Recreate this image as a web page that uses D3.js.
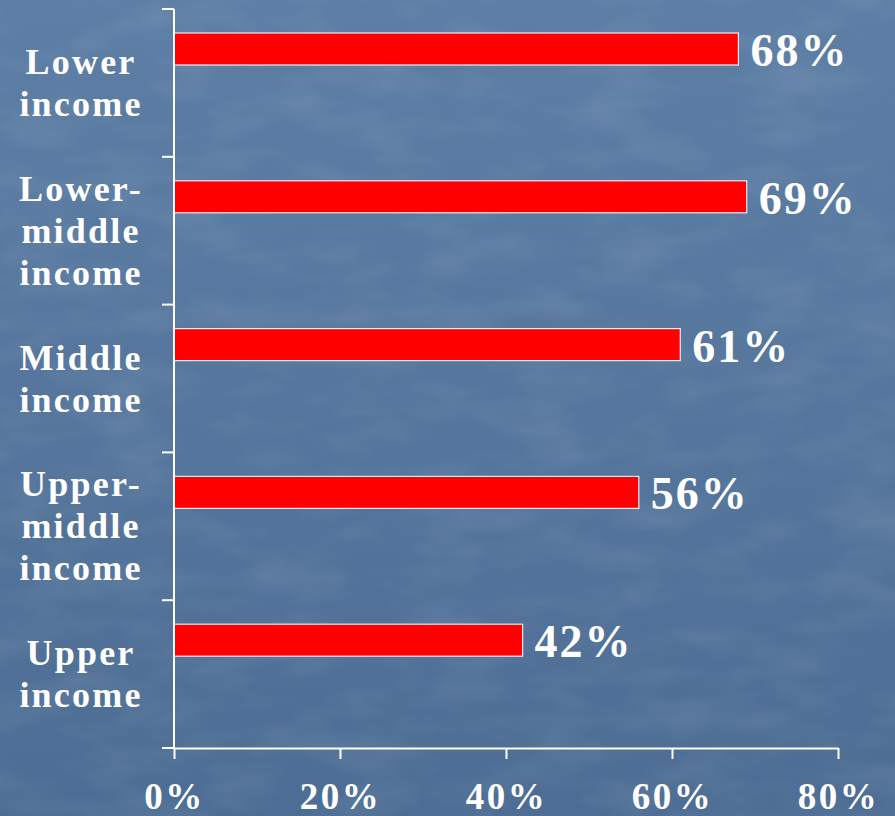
<!DOCTYPE html>
<html>
<head>
<meta charset="utf-8">
<script src="https://cdn.jsdelivr.net/npm/d3@7/dist/d3.min.js"></script>
<style>
  html, body { margin: 0; padding: 0; background: #56769c; }
  svg { display: block; }
</style>
</head>
<body>
<svg id="chart" width="895" height="816"></svg>
<script>
// ---- data ----
const categories = [
  ["Lower", "income"],
  ["Lower-", "middle", "income"],
  ["Middle", "income"],
  ["Upper-", "middle", "income"],
  ["Upper", "income"]
];
const categoryKeys = ["Lower income", "Lower-middle income", "Middle income", "Upper-middle income", "Upper income"];
const values = [68, 69, 61, 56, 42];
const xTicks = [0, 20, 40, 60, 80];

const W = 895, H = 816;
const svg = d3.select("#chart");

// background
const defs = svg.append("defs");
const grad = defs.append("linearGradient").attr("id", "bg").attr("x1", 0).attr("y1", 0).attr("x2", 0).attr("y2", 1);
grad.append("stop").attr("offset", "0%").attr("stop-color", "#5d7ea5");
grad.append("stop").attr("offset", "100%").attr("stop-color", "#4d6d94");
const filt = defs.append("filter").attr("id", "tex").attr("x", 0).attr("y", 0).attr("width", 1).attr("height", 1);
filt.append("feTurbulence").attr("type", "fractalNoise").attr("baseFrequency", "0.012 0.03").attr("numOctaves", 3).attr("seed", 4).attr("result", "n");
filt.append("feColorMatrix").attr("in", "n").attr("type", "matrix")
  .attr("values", "0 0 0 0 1  0 0 0 0 1  0 0 0 0 1  0 0 0 0.9 -0.35");
svg.append("rect").attr("width", W).attr("height", H).attr("fill", "url(#bg)");
svg.append("rect").attr("width", W).attr("height", H).attr("filter", "url(#tex)").attr("opacity", 0.18);

const font = "'Liberation Serif', 'Times New Roman', serif";

const x = d3.scaleLinear().domain([0, 80]).range([174, 838]);
const y = d3.scaleBand().domain(categoryKeys).range([9, 748]).paddingInner(0).paddingOuter(0);

// bars
svg.append("g").selectAll("rect").data(values).join("rect")
  .attr("x", x(0))
  .attr("y", (d, i) => y(categoryKeys[i]) + 24)
  .attr("width", d => x(d) - x(0))
  .attr("height", 32)
  .attr("fill", "#ff0000")
  .attr("stroke", "#e8eef6")
  .attr("stroke-width", 1.2);

// value labels
svg.append("g").selectAll("text").data(values).join("text")
  .attr("x", d => x(d) + 12)
  .attr("y", (d, i) => y(categoryKeys[i]) + 24 + 16 + 17)
  .attr("fill", "#ffffff")
  .attr("font-family", font)
  .attr("font-weight", "bold")
  .attr("font-size", 46)
  .attr("letter-spacing", 2)
  .text(d => d + "%");

// y axis ticks at band boundaries
const yBoundaries = categoryKeys.map(k => y(k)).concat([y.range()[1]]);
svg.append("g").selectAll("line").data(yBoundaries).join("line")
  .attr("x1", x(0) - 12).attr("x2", x(0))
  .attr("y1", d => d).attr("y2", d => d)
  .attr("stroke", "#fff").attr("stroke-width", 2);
svg.append("line")
  .attr("x1", x(0)).attr("x2", x(0))
  .attr("y1", y.range()[0]).attr("y2", y.range()[1])
  .attr("stroke", "#fff").attr("stroke-width", 2);

// x axis
const xAxis = d3.axisBottom(x).tickValues(xTicks).tickSize(11).tickSizeOuter(0).tickFormat(d => d + "%");
const xg = svg.append("g").attr("transform", `translate(0,${y.range()[1]})`).call(xAxis);
xg.select(".domain").attr("stroke", "#fff").attr("stroke-width", 2);
xg.selectAll(".tick line").attr("stroke", "#fff").attr("stroke-width", 2);
xg.selectAll(".tick text")
  .attr("fill", "#fff")
  .attr("font-family", font)
  .attr("font-weight", "bold")
  .attr("font-size", 37)
  .attr("letter-spacing", 2.5)
  .attr("dy", null)
  .attr("y", 61);

// category labels
const lineH = 42;
const lab = svg.append("g").selectAll("text").data(categories).join("text")
  .attr("fill", "#fff")
  .attr("font-family", font)
  .attr("font-weight", "bold")
  .attr("font-size", 36)
  .attr("letter-spacing", 2.2)
  .attr("text-anchor", "middle");
lab.each(function(lines, i) {
  const c = y(categoryKeys[i]) + y.bandwidth() / 2;
  d3.select(this).selectAll("tspan").data(lines).join("tspan")
    .attr("x", 81)
    .attr("y", (l, j) => c + 12 + (j - (lines.length - 1) / 2) * lineH)
    .text(l => l);
});
</script>
</body>
</html>
